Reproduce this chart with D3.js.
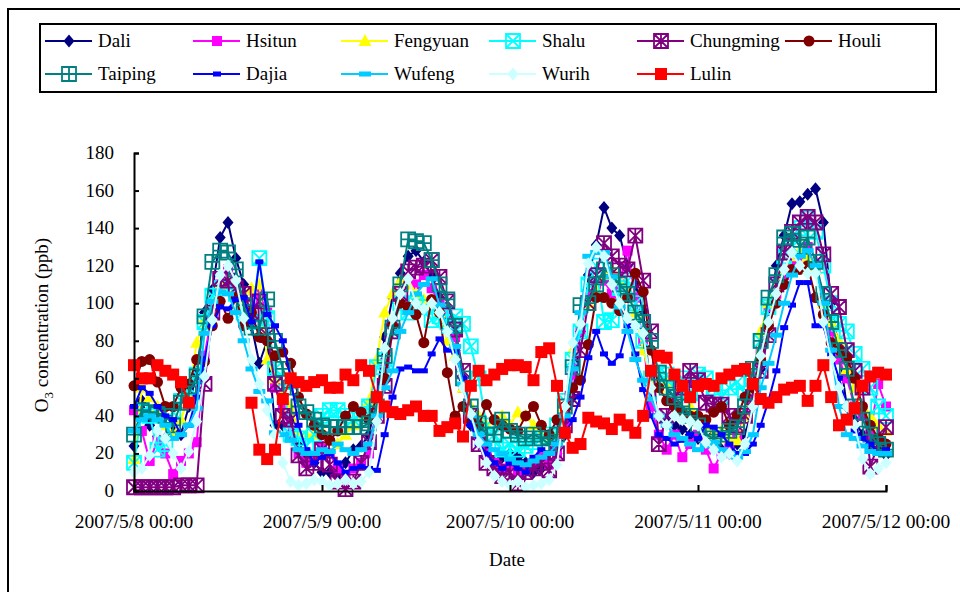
<!DOCTYPE html>
<html>
<head>
<meta charset="utf-8">
<script src="https://cdn.jsdelivr.net/npm/d3@7"></script>
<style>
  body { margin: 0; background: #fff; }
  svg text { font-family: "Liberation Serif", "Times New Roman", "DejaVu Serif", serif; fill: #000; }
</style>
</head>
<body>
<div id="chart"></div>
<script>
// hourly O3 (ppb), index 0 = 2007/5/8 00:00 ... index 96 = 2007/5/12 00:00
const dayLabels = ["2007/5/8 00:00", "2007/5/9 00:00", "2007/5/10 00:00", "2007/5/11 00:00", "2007/5/12 00:00"];
const yTicks = [0, 20, 40, 60, 80, 100, 120, 140, 160, 180];

const dali = [24,48,35,29,28,32,30,45,63,95,107,135,143,124,110,88,68,80,35,35,38,25,18,15,10,
  10,8,15,22,24,30,50,82,103,116,125,128,122,115,103,90,75,60,35,30,25,15,18,20,
  18,15,10,12,15,20,30,50,85,115,131,151,140,136,120,110,96,48,40,38,35,33,30,28,
  25,30,22,20,25,30,45,65,90,120,136,153,154,158,161,143,100,75,45,38,30,25,22,19];
const hsitun = [43,32,16,27,20,9,16,20,26,72,95,110,118,110,100,92,105,95,55,45,30,20,15,18,24,
  20,12,8,12,15,20,45,68,90,105,112,110,115,108,100,95,82,55,40,30,20,15,12,14,
  10,12,15,18,14,20,35,62,85,105,110,112,105,110,128,103,80,45,30,22,30,18,25,30,
  22,12,20,25,30,40,55,75,98,105,115,120,125,130,118,100,85,70,60,45,40,30,57,45];
const fengyuan = [17,55,50,45,35,30,38,50,79,92,100,110,112,108,100,108,110,70,60,50,45,32,30,30,32,
  28,25,30,35,40,48,70,95,105,112,110,105,102,100,95,80,72,55,45,40,35,38,40,35,
  42,40,35,30,28,30,45,75,90,100,108,115,118,112,105,95,75,60,55,58,62,55,45,40,
  35,30,32,28,27,40,60,85,100,110,118,125,128,125,118,100,90,80,65,55,45,40,35,32];
const shalu = [15,42,40,22,25,42,48,55,62,90,104,108,112,105,95,90,124,92,65,58,30,28,24,30,40,
  43,43,40,38,41,45,66,70,85,100,95,100,98,91,93,90,93,89,77,60,35,30,22,25,
  22,24,26,28,30,35,48,70,85,110,120,90,91,108,112,100,80,60,63,62,55,60,52,62,
  60,55,50,55,58,52,60,80,98,110,125,130,140,145,138,120,100,89,85,73,65,55,45,40];
const chungming = [2,2,2,2,2,2,3,3,3,57,95,113,112,108,105,95,101,83,57,40,38,19,12,15,22,
  14,5,1,5,15,26,40,56,85,105,117,119,120,123,114,101,86,64,40,25,15,12,8,10,
  4,10,12,15,11,20,35,49,75,100,115,132,125,120,118,136,112,85,25,40,50,55,64,59,
  47,46,46,40,35,40,50,64,83,110,127,138,143,146,143,126,105,98,75,64,55,13,25,34];
const houli = [56,69,70,58,45,45,55,57,70,69,88,101,92,103,88,95,82,80,72,74,68,50,41,35,30,
  27,32,40,45,42,38,50,60,88,100,98,94,79,102,95,63,40,45,38,35,46,38,35,33,
  32,40,45,35,30,38,45,55,59,78,103,103,100,96,103,116,106,75,55,48,45,42,40,40,
  38,42,45,35,40,50,55,70,88,100,110,118,118,120,103,94,79,75,71,60,45,35,28,25];
const taiping = [30,43,42,41,40,35,47,52,61,93,122,128,127,118,99,87,87,102,80,65,55,45,42,38,35,
  34,34,34,34,34,36,45,72,87,110,134,133,132,123,110,102,88,60,45,36,30,30,38,32,
  30,28,30,28,25,30,45,66,99,100,110,118,115,110,105,95,90,80,63,55,50,45,40,35,
  30,28,30,32,34,45,65,80,103,115,135,137,130,135,122,105,90,75,65,45,38,30,25,22];
const dajia = [45,55,52,45,40,38,30,35,50,70,88,98,97,102,103,90,122,94,88,80,60,35,22,15,18,
  20,15,10,12,13,12,11,30,50,65,66,64,64,73,81,75,74,60,35,25,20,15,12,15,
  12,10,18,22,20,25,30,38,50,71,85,73,68,72,88,73,54,40,30,28,25,27,30,28,
  35,34,30,25,20,20,25,35,48,64,87,99,111,111,88,88,73,60,45,32,28,25,20,22];
const wufeng = [32,38,40,38,35,28,30,35,44,84,101,106,105,95,80,65,53,48,31,30,27,22,20,20,22,
  21,25,22,20,22,25,40,55,64,85,95,105,110,113,99,85,77,57,40,30,25,22,20,17,
  15,14,16,18,20,25,40,65,95,125,127,127,114,98,85,70,59,49,40,35,30,28,25,22,
  24,26,22,20,18,21,30,55,68,83,100,115,125,128,120,100,75,45,30,28,24,21,20,20];
const wurih = [10,12,19,32,28,20,12,21,37,61,91,115,120,112,92,70,57,43,30,15,5,3,4,6,5,
  3,4,6,4,5,10,37,76,92,105,113,100,97,100,95,85,70,55,41,26,15,8,5,3,
  5,2,3,4,6,14,45,79,89,121,130,125,110,100,92,88,84,55,40,35,40,38,37,35,
  26,22,18,20,16,25,45,72,90,105,118,127,120,116,116,90,70,55,45,35,17,9,12,15];
// Lulin has no readings around midday on 5/8
const lulin = [67,60,60,67,64,62,58,47,null,null,null,null,null,null,null,47,22,17,22,49,60,58,56,58,59,
  55,55,62,59,67,64,50,45,42,41,43,45,40,40,32,34,36,29,56,64,59,62,65,67,
  67,66,59,74,76,56,31,23,25,39,37,36,33,38,35,31,40,64,72,71,62,56,50,56,
  57,56,60,62,64,65,57,49,47,50,54,55,56,48,56,67,50,35,38,44,56,61,63,62];

const series = [
  {name: "Dali", values: dali, color: "#000080", marker: "diamond"},
  {name: "Hsitun", values: hsitun, color: "#FF00FF", marker: "square"},
  {name: "Fengyuan", values: fengyuan, color: "#FFFF00", marker: "triangle"},
  {name: "Shalu", values: shalu, color: "#00FFFF", marker: "boxx"},
  {name: "Chungming", values: chungming, color: "#800080", marker: "boxstar"},
  {name: "Houli", values: houli, color: "#800000", marker: "circle"},
  {name: "Taiping", values: taiping, color: "#008080", marker: "boxplus"},
  {name: "Dajia", values: dajia, color: "#0000FF", marker: "shortdash"},
  {name: "Wufeng", values: wufeng, color: "#00CCFF", marker: "dash"},
  {name: "Wurih", values: wurih, color: "#CCFFFF", marker: "diamond"},
  {name: "Lulin", values: lulin, color: "#FF0000", marker: "bigsquare"}
];

const width = 960, height = 592;
const svg = d3.select("#chart").append("svg")
  .attr("width", width).attr("height", height)
  .attr("font-family", "'Liberation Serif', 'Times New Roman', serif");

// outer chart frame
svg.append("rect")
  .attr("x", 8).attr("y", 9).attr("width", 980).attr("height", 600)
  .attr("fill", "#fff").attr("stroke", "#000").attr("stroke-width", 2);

const x = d3.scaleLinear().domain([0, 96]).range([134, 886]);
const y = d3.scaleLinear().domain([0, 180]).range([491, 153]);

// draw a marker of a given kind centred on (0,0)
function drawMarker(g, kind, color) {
  switch (kind) {
    case "diamond":
      g.append("path").attr("d", "M0,-6.5L5.5,0L0,6.5L-5.5,0Z").attr("fill", color);
      break;
    case "square":
      g.append("rect").attr("x", -5).attr("y", -5).attr("width", 10).attr("height", 10).attr("fill", color);
      break;
    case "bigsquare":
      g.append("rect").attr("x", -6).attr("y", -6).attr("width", 12).attr("height", 12).attr("fill", color);
      break;
    case "triangle":
      g.append("path").attr("d", "M0,-7L6.5,5L-6.5,5Z").attr("fill", color);
      break;
    case "circle":
      g.append("circle").attr("r", 5.5).attr("fill", color);
      break;
    case "shortdash":
      g.append("rect").attr("x", -4).attr("y", -2.5).attr("width", 8).attr("height", 5).attr("fill", color);
      break;
    case "dash":
      g.append("rect").attr("x", -6).attr("y", -2.5).attr("width", 12).attr("height", 5).attr("fill", color);
      break;
    case "boxx":
    case "boxstar":
    case "boxplus": {
      const s = 7;
      let d = `M${-s},${-s}H${s}V${s}H${-s}Z`;
      if (kind !== "boxplus") d += `M${-s},${-s}L${s},${s}M${s},${-s}L${-s},${s}`;
      if (kind !== "boxx") d += `M0,${-s}V${s}`;
      if (kind === "boxplus") d += `M${-s},0H${s}`;
      g.append("path").attr("d", d).attr("fill", "none")
        .attr("stroke", color).attr("stroke-width", 1.8);
      break;
    }
  }
}

const line = d3.line()
  .defined(d => d != null)
  .x((d, i) => x(i))
  .y(d => y(d));

const plot = svg.append("g");
series.forEach(s => {
  plot.append("path")
    .datum(s.values)
    .attr("d", line)
    .attr("fill", "none")
    .attr("stroke", s.color)
    .attr("stroke-width", 2);
  s.values.forEach((v, i) => {
    if (v == null) return;
    const g = plot.append("g").attr("transform", `translate(${x(i)},${y(v)})`);
    drawMarker(g, s.marker, s.color);
  });
});

// axes
const yAxis = svg.append("g").attr("transform", "translate(134,0)")
  .call(d3.axisRight(y).tickValues(yTicks).tickSize(5).tickFormat(""));
const xAxis = svg.append("g").attr("transform", "translate(0,491)")
  .call(d3.axisTop(x).tickValues([0, 24, 48, 72, 96]).tickSize(6).tickFormat(""));
[yAxis, xAxis].forEach(a => {
  a.select(".domain").attr("stroke", "#000").attr("stroke-width", 2);
  a.selectAll(".tick line").attr("stroke", "#000").attr("stroke-width", 2);
});

svg.append("g").selectAll("text")
  .data(yTicks).join("text")
  .attr("x", 114).attr("y", d => y(d) + 6)
  .attr("text-anchor", "end")
  .style("font-size", "19px")
  .text(d => d);

svg.append("g").selectAll("text")
  .data(dayLabels).join("text")
  .attr("x", (d, i) => x(i * 24)).attr("y", 528)
  .attr("text-anchor", "middle")
  .style("font-size", "19.5px")
  .text(d => d);

svg.append("text")
  .attr("x", 507).attr("y", 566)
  .attr("text-anchor", "middle")
  .style("font-size", "19px")
  .text("Date");

const yTitle = svg.append("text")
  .attr("transform", "translate(48,325) rotate(-90)")
  .attr("text-anchor", "middle")
  .style("font-size", "19px");
yTitle.append("tspan").text("O");
yTitle.append("tspan").attr("dy", 5).style("font-size", "13px").text("3");
yTitle.append("tspan").attr("dy", -5).text(" concentration (ppb)");

// legend
svg.append("rect")
  .attr("x", 40).attr("y", 24).attr("width", 896).attr("height", 68)
  .attr("fill", "#fff").attr("stroke", "#000").attr("stroke-width", 2);

const legend = svg.append("g");
series.forEach((s, i) => {
  const col = i < 6 ? i : i - 6;
  const row = i < 6 ? 0 : 1;
  const lx = 45 + col * 148;
  const ly = row === 0 ? 41 : 74;
  const item = legend.append("g").attr("transform", `translate(${lx},${ly})`);
  item.append("line").attr("x1", 0).attr("x2", 47).attr("y1", 0).attr("y2", 0)
    .attr("stroke", s.color).attr("stroke-width", 2);
  drawMarker(item.append("g").attr("transform", "translate(24,0)"), s.marker, s.color);
  item.append("text").attr("x", 53).attr("y", 6)
    .style("font-size", "19px")
    .text(s.name);
});
</script>
</body>
</html>
